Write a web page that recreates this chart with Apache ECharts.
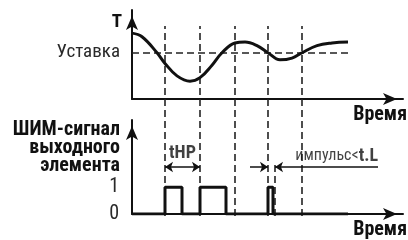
<!DOCTYPE html>
<html>
<head>
<meta charset="utf-8">
<script src="https://cdn.jsdelivr.net/npm/echarts@6/dist/echarts.min.js"></script>
<style>
  html, body { margin: 0; padding: 0; background: #fff; }
  #chart { width: 408px; height: 240px; }
</style>
</head>
<body>
<div id="chart"></div>
<script>
// time axis: 0..271 units, same for both panels
var timeMax = 271;

// temperature curve (top panel)
var curveTime = [0, 10, 25, 33, 45, 58, 68, 80, 90, 103, 113, 125, 136, 148, 160, 170, 185, 200, 216];
var curveTemp = [7.4, 7.0, 5.2, 4.0, 2.6, 2.0, 2.4, 3.8, 5.2, 6.3, 6.4, 6.0, 5.2, 4.4, 4.6, 5.2, 6.0, 6.3, 6.4];
var setpoint = 5.2;
var setpointEnd = 216;
var setpointLabel = 'Уставка';

// PWM output (bottom panel)
var pwmTime = [0, 33, 33, 50, 50, 68, 68, 94, 94, 136, 136, 141, 141, 216];
var pwmLevel = [0, 0, 1, 1, 0, 0, 1, 1, 0, 0, 1, 1, 0, 0];
var levelTicks = [0, 1];
var levelLabels = ['0', '1'];

// vertical guides (moments of crossing the setpoint)
var guideTimes = [33, 68, 103, 136, 170];
var shortGuideTime = 143;

// annotations
var periodStart = 33, periodEnd = 68, arrowLevel = 1.75;
var pulseLeft = 136, pulseRight = 143, pulseArrowFrom = 118, pulseArrowTo = 246;

var FONT = '"Roboto Condensed", "DejaVu Sans Condensed", sans-serif';
var INK = '#111';

var chart = echarts.init(document.getElementById('chart'));

function zip(a, b) {
    return a.map(function (v, i) { return [v, b[i]]; });
}

var guideLines = guideTimes.map(function (t) {
    return { coords: [[t, 0], [t, 1]] };
});
guideLines.push({ coords: [[shortGuideTime, 0], [shortGuideTime, 0.29]] });

var timeAxis = function (gridIndex, name) {
    return {
        type: 'value', gridIndex: gridIndex, min: 0, max: timeMax,
        name: name, nameLocation: 'end', nameGap: 4,
        nameTextStyle: {
            fontFamily: FONT, fontWeight: 'bold', fontSize: 20, color: INK,
            align: 'right', verticalAlign: 'top', padding: [6, 0, 0, 0]
        },
        axisLine: { lineStyle: { color: INK, width: 2 }, symbol: ['none', 'arrow'], symbolSize: [9, 14], symbolOffset: [0, -6] },
        axisTick: { show: false }, axisLabel: { show: false }, splitLine: { show: false }
    };
};

chart.setOption({
    animation: false,
    grid: [
        { left: 132, right: 5, top: 10, bottom: 141 },
        { left: 132, right: 5, top: 120, bottom: 24 },
        { left: 132, right: 5, top: 26, bottom: 24 }
    ],
    xAxis: [
        timeAxis(0, 'Время'),
        timeAxis(1, 'Время'),
        { type: 'value', gridIndex: 2, min: 0, max: timeMax, show: false }
    ],
    yAxis: [
        {
            type: 'value', gridIndex: 0, min: 0, max: 10,
            name: 'T', nameLocation: 'end', nameGap: -3,
            nameTextStyle: {
                fontFamily: FONT, fontWeight: 'bold', fontSize: 19, color: INK,
                align: 'right', verticalAlign: 'top', padding: [0, 10, 0, 0]
            },
            axisLine: { lineStyle: { color: INK, width: 2 }, symbol: ['none', 'arrow'], symbolSize: [9, 14], symbolOffset: [0, -6] },
            axisTick: { show: false }, splitLine: { show: false },
            axisLabel: {
                customValues: [setpoint], margin: 12,
                fontFamily: FONT, fontSize: 19, color: '#2a2a2a',
                formatter: function () { return setpointLabel; }
            }
        },
        {
            type: 'value', gridIndex: 1, min: 0, max: 3.5,
            name: 'ШИМ-сигнал\nвыходного\nэлемента', nameLocation: 'end', nameGap: -1,
            nameTextStyle: {
                fontFamily: FONT, fontWeight: 'bold', fontSize: 20, color: INK,
                align: 'right', verticalAlign: 'top', lineHeight: 18, padding: [0, 12, 0, 0]
            },
            axisLine: { lineStyle: { color: INK, width: 2 }, symbol: ['none', 'arrow'], symbolSize: [9, 14], symbolOffset: [0, -6] },
            axisTick: { show: false }, splitLine: { show: false },
            axisLabel: {
                customValues: levelTicks, margin: 13,
                fontFamily: FONT, fontSize: 20, color: '#2a2a2a',
                formatter: function (v) { return levelLabels[levelTicks.indexOf(v)]; }
            }
        },
        { type: 'value', gridIndex: 2, min: 0, max: 1, show: false }
    ],
    series: [
        {
            type: 'lines', coordinateSystem: 'cartesian2d', xAxisIndex: 2, yAxisIndex: 2,
            lineStyle: { color: '#222', width: 1.6, type: [7, 4], opacity: 1 },
            symbol: 'none', silent: true,
            data: guideLines
        },
        {
            type: 'lines', coordinateSystem: 'cartesian2d', xAxisIndex: 0, yAxisIndex: 0,
            lineStyle: { color: '#222', width: 1.6, type: [7, 4], opacity: 1 },
            symbol: 'none', silent: true,
            data: [{ coords: [[0, setpoint], [setpointEnd, setpoint]] }]
        },
        {
            type: 'line', xAxisIndex: 0, yAxisIndex: 0,
            data: zip(curveTime, curveTemp),
            smooth: 0.4, showSymbol: false,
            lineStyle: { color: INK, width: 3 }
        },
        {
            type: 'line', xAxisIndex: 1, yAxisIndex: 1,
            data: zip(pwmTime, pwmLevel),
            showSymbol: false,
            lineStyle: { color: INK, width: 3 }
        },
        {
            type: 'lines', coordinateSystem: 'cartesian2d', xAxisIndex: 1, yAxisIndex: 1,
            lineStyle: { color: INK, width: 1.6, opacity: 1 },
            symbolSize: 8, silent: true,
            data: [
                { coords: [[periodStart, arrowLevel], [periodEnd, arrowLevel]], symbol: ['arrow', 'arrow'] },
                { coords: [[pulseArrowFrom, arrowLevel], [pulseLeft, arrowLevel]], symbol: ['none', 'arrow'] },
                { coords: [[pulseArrowTo, arrowLevel], [pulseRight, arrowLevel]], symbol: ['none', 'arrow'] }
            ]
        },
        {
            type: 'scatter', xAxisIndex: 1, yAxisIndex: 1,
            symbolSize: 0, silent: true,
            data: [
                { value: [(periodStart + periodEnd) / 2, 2.25], label: { formatter: 'tHP', align: 'center', fontWeight: 'bold', fontSize: 18 } },
                { value: [pulseArrowTo, 2.15], label: { formatter: 'импульс<{b|t.L}', align: 'right', fontSize: 16 } }
            ],
            label: {
                show: true, position: 'inside', verticalAlign: 'middle',
                fontFamily: FONT, color: INK,
                rich: { b: { fontFamily: FONT, fontWeight: 'bold', fontSize: 18, color: INK } }
            }
        }
    ]
});
</script>
</body>
</html>
